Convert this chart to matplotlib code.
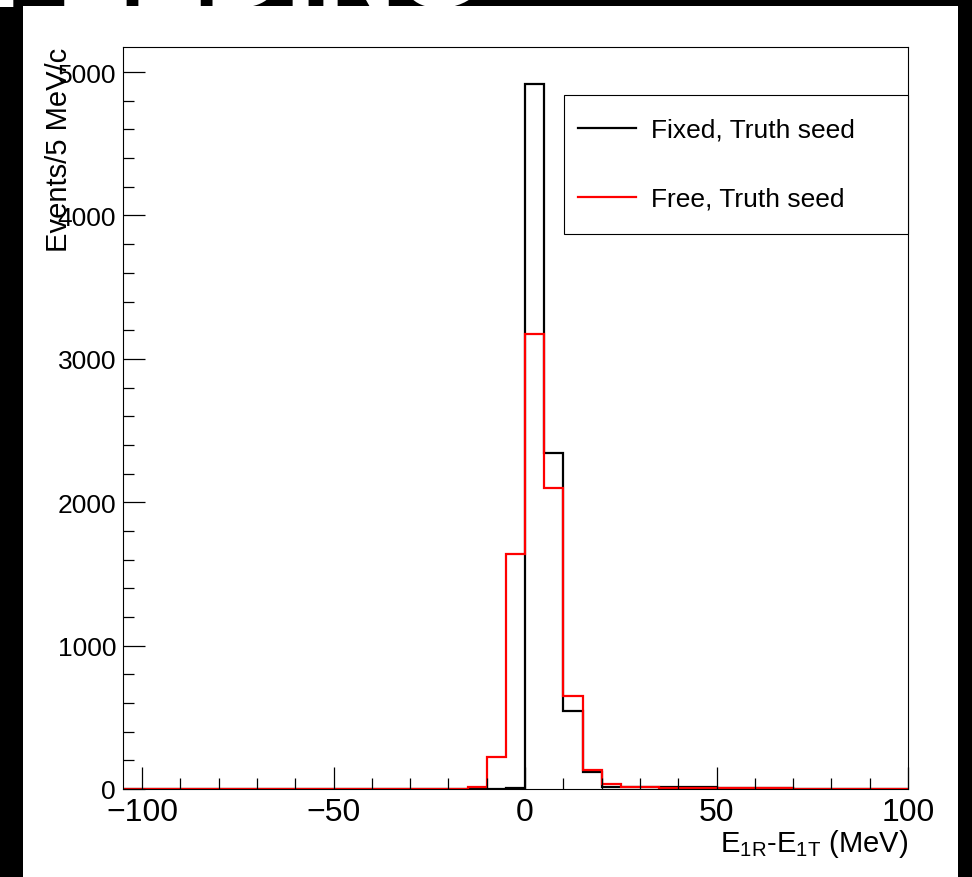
"""Energy residual histograms, fixed vs free fit with truth seed."""

import matplotlib

matplotlib.use("Agg")

import matplotlib.pyplot as plt
import numpy as np
from matplotlib.lines import Line2D
from matplotlib.patches import Rectangle
from matplotlib.ticker import MultipleLocator

# 5 MeV bins from -105 to 100
bin_edges = np.arange(-105, 101, 5)

fixed_truth_counts = [
    0, 0, 0, 0, 0, 0, 0, 0, 0, 0, 0, 0, 0, 0, 0, 0, 0, 0,   # -105 .. -20
    2, 3, 4,                                                 # -15, -10, -5
    4915, 2343, 546, 121, 14, 16, 12, 14, 15, 12,            # 0 .. 45
    8, 6, 5, 4, 3, 2, 1, 1, 0, 0,                            # 50 .. 95
]
free_truth_counts = [
    0, 0, 0, 0, 0, 0, 0, 0, 0, 0, 0, 0, 0, 0, 0, 0, 0, 1,   # -105 .. -20
    15, 221, 1639,                                           # -15, -10, -5
    3173, 2097, 646, 135, 33, 16, 12, 10, 8, 8,              # 0 .. 45
    7, 6, 5, 4, 2, 1, 0, 0, 0, 0,                            # 50 .. 95
]
y_top = 5175

series_labels = ["Fixed, Truth seed", "Free, Truth seed"]
series_colors = ["black", "#ff0000"]

W, H = 972, 878

plt.rcParams["font.family"] = ["Liberation Sans", "DejaVu Sans"]
plt.rcParams["mathtext.fontset"] = "custom"
plt.rcParams["mathtext.rm"] = "Liberation Sans"
plt.rcParams["mathtext.it"] = "Liberation Sans:italic"


def px_x(x):
    return x / W


def px_y(y):
    return 1 - y / H


figure = plt.figure(figsize=(W / 100, H / 100), dpi=100, facecolor="black")

# white canvas inside the black screenshot border
figure.patches.append(
    Rectangle(
        (px_x(23), 0), px_x(958) - px_x(23), px_y(7),
        transform=figure.transFigure, facecolor="white", edgecolor="none", zorder=-2,
    )
)
# cut-off title text from the page above
figure.text(px_x(-10), px_y(7), "FEEDING", color="white", fontsize=80,
            fontweight="bold", va="baseline", ha="left", zorder=-1)

axis = figure.add_axes([px_x(123), px_y(790), px_x(908) - px_x(123), px_y(48) - px_y(790)])
axis.set_zorder(2)

for counts, label, color in zip(
    [fixed_truth_counts, free_truth_counts], series_labels, series_colors
):
    axis.stairs(counts, bin_edges, baseline=0, color=color, linewidth=1.6, label=label)

axis.set_xlim(-105, 100)
axis.set_ylim(0, y_top)

axis.xaxis.set_major_locator(MultipleLocator(50))
axis.xaxis.set_minor_locator(MultipleLocator(10))
axis.yaxis.set_major_locator(MultipleLocator(1000))
axis.yaxis.set_minor_locator(MultipleLocator(200))

axis.tick_params(axis="both", which="both", direction="in", top=False, right=False,
                 width=0.9)
axis.tick_params(axis="x", which="major", length=16, labelsize=23, pad=6)
axis.tick_params(axis="x", which="minor", length=8)
axis.tick_params(axis="y", which="major", length=16, labelsize=19, pad=5)
axis.tick_params(axis="y", which="minor", length=8)
for spine in axis.spines.values():
    spine.set_linewidth(0.8)

axis.set_xlabel(r"E$_{\mathrm{1R}}$-E$_{\mathrm{1T}}$ (MeV)", fontsize=21)
axis.xaxis.set_label_coords(1.0, -0.051)
axis.xaxis.label.set_horizontalalignment("right")

axis.set_ylabel("Events/5 MeV/c", fontsize=21)
axis.yaxis.set_label_coords(-0.082, 1.0)
axis.yaxis.label.set_verticalalignment("center")
axis.yaxis.label.set_horizontalalignment("right")

# legend box drawn separately so the entries can sit where ROOT put them
figure.patches.append(
    Rectangle(
        (px_x(564), px_y(235)), px_x(908) - px_x(564), px_y(96) - px_y(235),
        transform=figure.transFigure, facecolor="white", edgecolor="black",
        linewidth=0.8, zorder=3,
    )
)
handles = [Line2D([], [], color=c, linewidth=1.6) for c in series_colors]
legend = figure.legend(
    handles,
    series_labels,
    loc="upper left",
    bbox_to_anchor=(px_x(564), px_y(105)),
    bbox_transform=figure.transFigure,
    fontsize=19,
    frameon=False,
    borderpad=0.53,
    labelspacing=1.7,
    handlelength=2.2,
    handletextpad=0.55,
    borderaxespad=0,
)
legend.set_zorder(4)

figure.savefig("out.png", dpi=100, facecolor="black")
plt.close(figure)
